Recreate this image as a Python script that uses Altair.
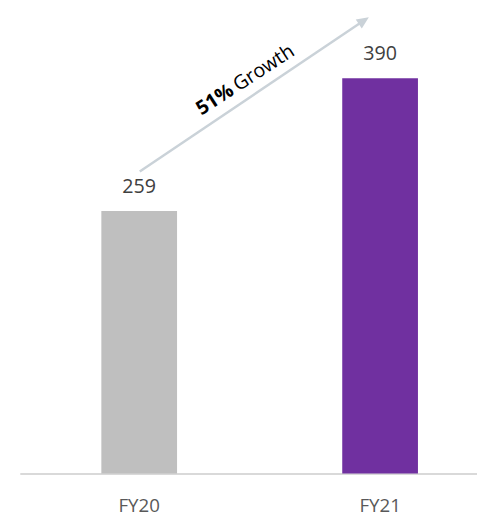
import altair as alt
import pandas as pd

years = ["FY20", "FY21"]
values = [259, 390]
bar_colors = ["#BFBFBF", "#7030A0"]

growth_bold = "51%"
growth_text = "Growth"

df = pd.DataFrame({"year": years, "value": values, "color": bar_colors})
one = pd.DataFrame({"k": [0]})

FONT = "Open Sans"
ARROW = "#CAD2D8"

base = alt.Chart(df).encode(
    x=alt.X(
        "year:N",
        sort=years,
        scale=alt.Scale(paddingInner=0.6857, paddingOuter=0.2918, align=0.58),
        axis=alt.Axis(
            title=None, labelAngle=0, labelFont=FONT, labelFontSize=19,
            labelColor="#595959", ticks=False, tickSize=0, labelPadding=24,
            domainColor="#D9D9D9", domainWidth=2, grid=False,
        ),
    ),
    y=alt.Y("value:Q", scale=alt.Scale(domain=[0, 455]), axis=None),
)

bars = base.mark_bar().encode(color=alt.Color("color:N", scale=None))
labels = base.mark_text(
    dy=-18, baseline="alphabetic", font=FONT, fontSize=20, color="#404040"
).encode(text="value:Q")

arrow_line = alt.Chart(one).mark_rule(color=ARROW, strokeWidth=2.5).encode(
    x=alt.value(122), y=alt.value(162), x2=alt.value(349.6), y2=alt.value(8.6)
)
arrow_head = alt.Chart(one).mark_point(
    shape="M0,-1L0.85,0.9L-0.85,0.9Z", filled=True, size=169, angle=56,
    color=ARROW, opacity=1, strokeWidth=0,
).encode(x=alt.value(349.6), y=alt.value(8.6))

t1 = alt.Chart(one).mark_text(
    text=growth_bold, angle=327, align="right", baseline="alphabetic",
    font=FONT, fontSize=20, fontWeight="bold", color="#000000",
).encode(x=alt.value(219), y=alt.value(83))
t2 = alt.Chart(one).mark_text(
    text=growth_text, angle=327, align="left", baseline="alphabetic", dx=4,
    font=FONT, fontSize=20, color="#000000",
).encode(x=alt.value(219), y=alt.value(83))

chart = alt.layer(bars, labels, arrow_line, arrow_head, t1, t2).properties(
    width=465, height=469,
    autosize=alt.AutoSizeParams(type="none"),
    padding={"left": 12, "top": 0, "right": 0, "bottom": 43},
).configure_view(stroke=None)

chart.save("out.html", embed_options={"renderer": "svg", "actions": False})
